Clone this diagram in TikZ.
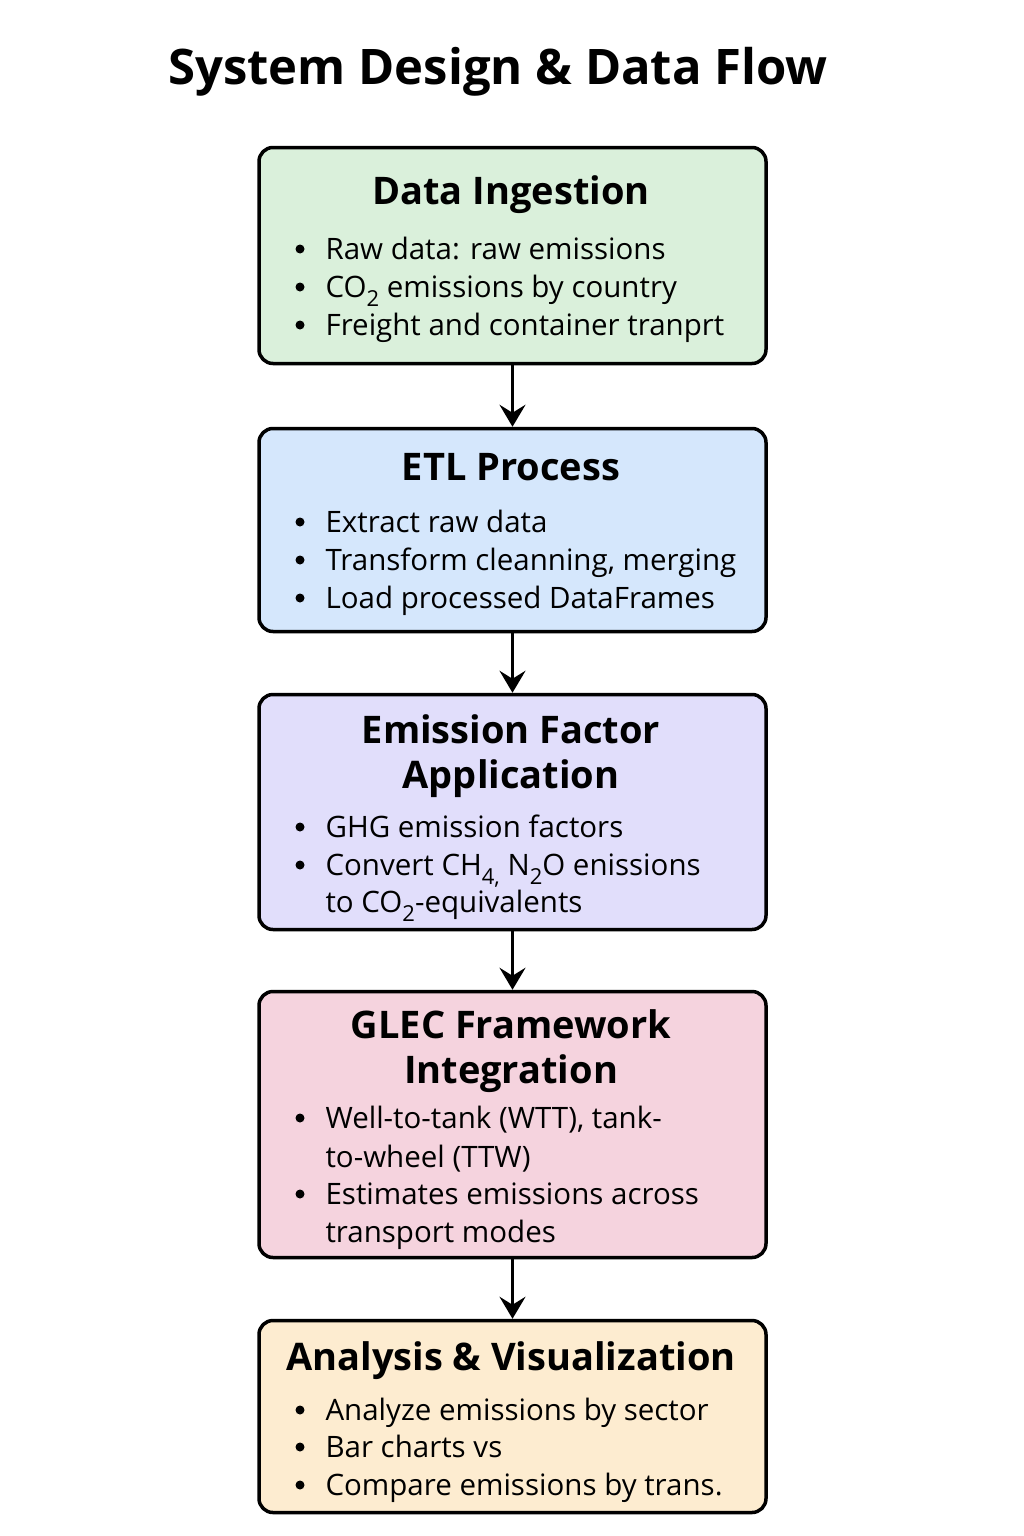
\documentclass[tikz,border=0pt]{standalone}
\usepackage{fontspec}
\setmainfont{Open Sans}
\usetikzlibrary{arrows.meta}
\definecolor{ingest}{RGB}{218,240,219}
\definecolor{etl}{RGB}{213,231,252}
\definecolor{factor}{RGB}{225,222,251}
\definecolor{glec}{RGB}{245,211,222}
\definecolor{analysis}{RGB}{253,236,208}
\newcommand{\lowsub}[1]{\raisebox{-0.32em}{\fontsize{22}{22}\selectfont #1}}
\begin{document}
\begin{tikzpicture}[x=1pt,y=-1pt,>={Stealth[length=22pt,width=26pt,inset=8pt]}, line join=round, line cap=round,
	box/.style={draw=black, line width=3.5pt, rounded corners=14pt, minimum width=507pt, inner sep=0pt},
	head/.style={anchor=base, font=\fontsize{38}{44}\selectfont\bfseries},
	line/.style={anchor=base west, font=\fontsize{29.5}{34}\selectfont}]
	\useasboundingbox (0,0) rectangle (1024,1536);
	\def\xb{300} \def\xt{322} \def\xc{511} % Spalten
	\node[anchor=base, font=\fontsize{49}{56}\selectfont\bfseries] (title) at (498,85) {System Design \& Data Flow};
	% Kaesten
	\node[box, fill=ingest, minimum height=216pt] (ingest) at (512.5,255.5) {};
	\node[box, fill=etl, minimum height=203pt] (etl) at (512.5,530) {};
	\node[box, fill=factor, minimum height=235pt] (factor) at (512.5,812) {};
	\node[box, fill=glec, minimum height=266pt] (glec) at (512.5,1124.5) {};
	\node[box, fill=analysis, minimum height=192pt] (analysis) at (512.5,1416.5) {};
	% Ueberschriften
	\foreach \y/\t [count=\i] in {204/Data Ingestion, 480/ETL Process, 743/Emission Factor, 788/Application,
		1038/GLEC Framework, 1083/Integration, 1370/Analysis \& Visualization}
		\node[head] (head\i) at (\xc,\y) {\t};
	% Punkte
	\foreach \y in {259,297,335,532,570,608,837,875,1128,1204,1420,1457,1495}
		\fill (\xb,\y-10) circle (4.5pt);
	% Zeilen
	\foreach \y/\t [count=\i] in {259/Raw data: raw emissions, 297/CO\lowsub{2} emissions by country,
		335/Freight and container tranprt, 532/Extract raw data, 570/{Transform cleanning, merging},
		608/Load processed DataFrames, 837/GHG emission factors, 875/{Convert CH\lowsub{4,} N\lowsub{2}O enissions},
		912/to CO\lowsub{2}-equivalents, 1128/{Well-to-tank (WTT), tank-}, 1167/to-wheel (TTW),
		1204/Estimates emissions across, 1242/transport modes, 1420/Analyze emissions by sector,
		1457/Bar charts vs, 1495/Compare emissions by trans.}
		\node[line] (line\i) at (\xt,\y) {\t};
	% Pfeile
	\draw[->, line width=3pt] (ingest.south) -- (etl.north);
	\draw[->, line width=3pt] (etl.south) -- (factor.north);
	\draw[->, line width=3pt] (factor.south) -- (glec.north);
	\draw[->, line width=3pt] (glec.south) -- (analysis.north);
\end{tikzpicture}
\end{document}
